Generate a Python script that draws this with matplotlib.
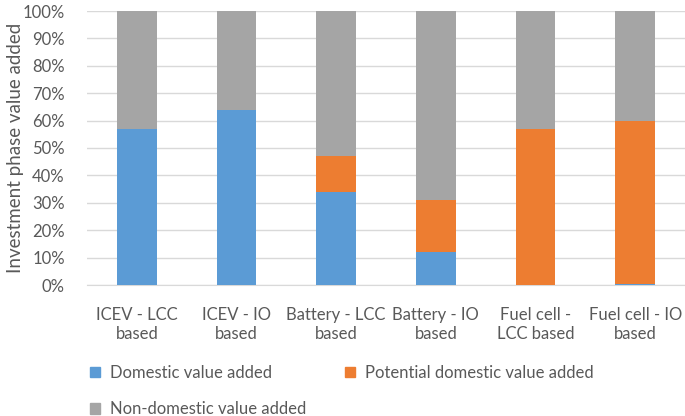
import matplotlib
matplotlib.use("Agg")
import matplotlib.pyplot as plt
from matplotlib.ticker import PercentFormatter
from matplotlib.patches import Patch

categories = ["ICEV - LCC\nbased", "ICEV - IO\nbased", "Battery - LCC\nbased",
              "Battery - IO\nbased", "Fuel cell -\nLCC based", "Fuel cell - IO\nbased"]
domestic = [57, 64, 34, 12, 0, 0.5]
potential = [0, 0, 13, 19, 57, 59.5]
non_domestic = [43, 36, 53, 69, 43, 40]

c_dom = "#5B9BD5"
c_pot = "#ED7D31"
c_non = "#A5A5A5"
txt = "#595959"

plt.rcParams['font.family'] = ['Lato', 'DejaVu Sans']

fig = plt.figure(figsize=(6.85, 4.16), dpi=100)
ax = fig.add_axes([87/685, 1 - 285/416, (685 - 87)/685, (285 - 11)/416])

x = list(range(len(categories)))
w = 0.4
ax.bar(x, domestic, w, color=c_dom, zorder=3)
ax.bar(x, potential, w, bottom=domestic, color=c_pot, zorder=3)
bott = [d + p for d, p in zip(domestic, potential)]
ax.bar(x, non_domestic, w, bottom=bott, color=c_non, zorder=3)

ax.set_xlim(-0.5, len(categories) - 0.5)
ax.set_ylim(0, 100)
ax.set_yticks(range(0, 101, 10))
ax.yaxis.set_major_formatter(PercentFormatter(decimals=0))
ax.grid(axis='y', color='#D9D9D9', linewidth=1, zorder=0)
for s in ['top', 'right', 'left']:
    ax.spines[s].set_visible(False)
ax.spines['bottom'].set_color('#D9D9D9')
ax.tick_params(axis='y', length=0, labelsize=12, colors=txt, pad=16)
ax.tick_params(axis='x', length=0, labelsize=12, colors=txt, pad=16)
ax.set_xticks(x)
ax.set_xticklabels(categories, fontsize=12, color=txt, linespacing=1.25)
ax.set_ylabel("Investment phase value added", fontsize=13.5, color=txt, labelpad=-1)

handles = [Patch(color=c_dom, label="Domestic value added"),
           Patch(color=c_non, label="Non-domestic value added"),
           Patch(color=c_pot, label="Potential domestic value added")]
fig.legend(handles=handles, loc='upper left', bbox_to_anchor=(83/685, 1 - 358/416),
           ncol=2, frameon=False, fontsize=12, labelcolor=txt,
           handlelength=0.6, handleheight=0.6, handletextpad=0.6,
           columnspacing=2.35, borderaxespad=0, labelspacing=1.25)

fig.savefig("out.png", dpi=100)
